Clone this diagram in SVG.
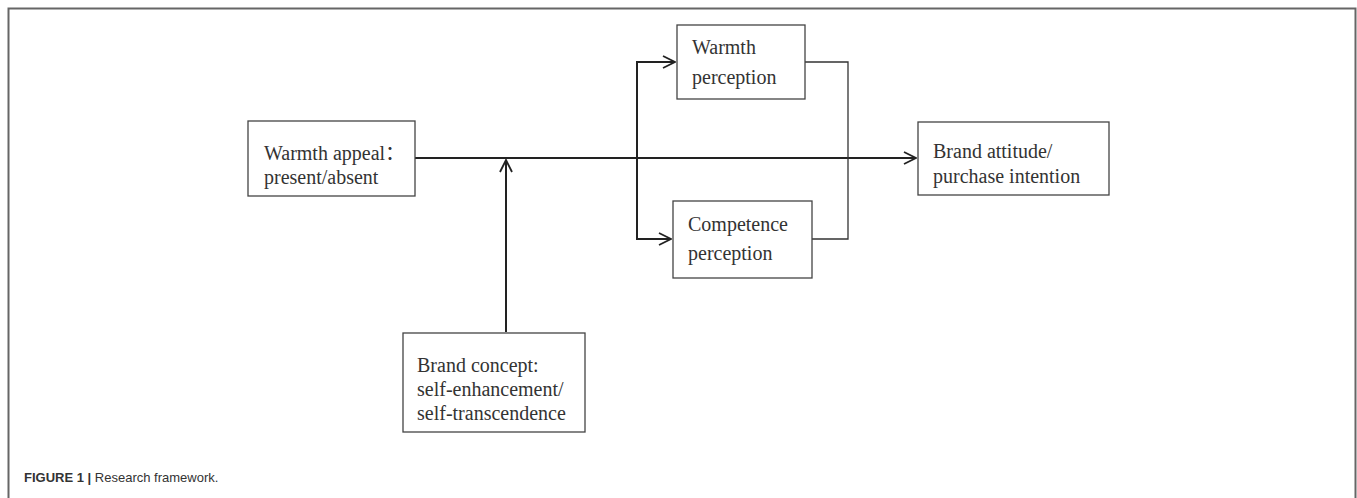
<svg xmlns="http://www.w3.org/2000/svg" width="1357" height="498" viewBox="0 0 1357 498">
<style>
.box{fill:#fff;stroke:#444;stroke-width:1.3}
.t{font-family:"Liberation Serif","Times New Roman","Noto Sans CJK SC",serif;font-size:20px;fill:#333}
.c{fill:none;stroke:#222;stroke-width:2}
.thin{fill:none;stroke:#333;stroke-width:1.3}
.cap{font-family:"Liberation Sans",Arial,sans-serif;font-size:13px;fill:#333}
</style>
<defs>
<marker id="arr" viewBox="0 0 14 14" refX="13" refY="7" markerWidth="14" markerHeight="14" markerUnits="userSpaceOnUse" orient="auto">
<path d="M1,1 L13,7 L1,13" fill="none" stroke="#222" stroke-width="1.8"/>
</marker>
</defs>
<rect width="1357" height="498" fill="#fff"/>
<path d="M8.5,498 V8.5 H1355.5 V498" fill="none" stroke="#666" stroke-width="2"/>
<g id="connectors">
<path class="c" d="M415,158 H916" marker-end="url(#arr)"/>
<path class="c" d="M506,332 V160" marker-end="url(#arr)"/>
<path class="c" d="M675,62 H637 V239 H671" marker-end="url(#arr)"/>
<path class="c" d="M637,62 H675" marker-end="url(#arr)"/>
<path class="thin" d="M805,62 H848 V239 H812"/>
</g>
<g id="warmth-appeal">
<rect class="box" x="248" y="121" width="167" height="75"/>
<text class="t" x="264" y="160">Warmth appeal：</text>
<text class="t" x="264" y="184">present/absent</text>
</g>
<g id="warmth-perception">
<rect class="box" x="677" y="25" width="128" height="74"/>
<text class="t" x="692" y="54">Warmth</text>
<text class="t" x="692" y="84">perception</text>
</g>
<g id="competence-perception">
<rect class="box" x="673" y="201" width="139" height="77"/>
<text class="t" x="688" y="231">Competence</text>
<text class="t" x="688" y="260">perception</text>
</g>
<g id="brand-attitude">
<rect class="box" x="918" y="122" width="191" height="73"/>
<text class="t" x="933" y="158">Brand attitude/</text>
<text class="t" x="933" y="183">purchase intention</text>
</g>
<g id="brand-concept">
<rect class="box" x="403" y="333" width="182" height="99"/>
<text class="t" x="417" y="372">Brand concept:</text>
<text class="t" x="417" y="396">self-enhancement/</text>
<text class="t" x="417" y="420">self-transcendence</text>
</g>
<text class="cap" x="24" y="482"><tspan font-weight="bold">FIGURE 1 |</tspan> Research framework.</text>
</svg>
